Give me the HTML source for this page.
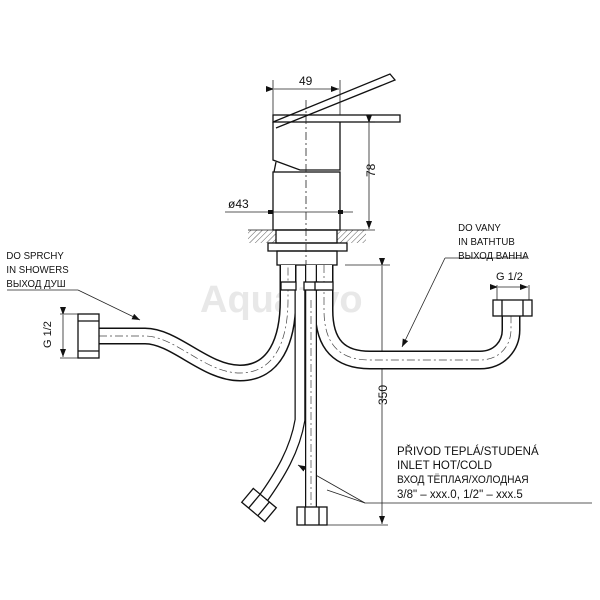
<!DOCTYPE html>
<html><head><meta charset="utf-8"><style>
html,body{margin:0;padding:0;background:#fff}
svg{display:block}
text{font-family:"Liberation Sans","DejaVu Sans",sans-serif;fill:#111}
</style></head><body>
<svg width="600" height="600" viewBox="0 0 600 600" xmlns="http://www.w3.org/2000/svg">
<defs>
<pattern id="h" width="4" height="4" patternUnits="userSpaceOnUse" patternTransform="rotate(45)">
<line x1="0" y1="0" x2="0" y2="4" stroke="#333" stroke-width="0.8"/></pattern>
<marker id="a" markerWidth="8" markerHeight="6" refX="8" refY="3" orient="auto" markerUnits="userSpaceOnUse">
<path d="M0,0 L8,3 L0,6z" fill="#111"/></marker>
</defs>
<text x="200" y="312" font-size="38" font-weight="bold" style="fill:#e8e8e8">Aquativo</text>

<g stroke="#111" fill="none" stroke-width="1.3">
<path d="M273,122 L390,74 L395,80 L276,128"/>
<rect x="273" y="115" width="127" height="7"/>
<path d="M273,122 L273,160 L300,170 L340,170 L340,122"/>
<line x1="276" y1="162" x2="274" y2="172"/>
<rect x="273" y="172" width="67" height="58"/>
<rect x="248" y="230" width="28" height="13" fill="url(#h)" stroke="none"/>
<rect x="337" y="230" width="29" height="13" fill="url(#h)" stroke="none"/>
<line x1="248" y1="230" x2="366" y2="230" stroke-width="0.8"/>
<rect x="276" y="230" width="61" height="13"/>
<rect x="268" y="243" width="79" height="8"/>
<rect x="277" y="251" width="60" height="14"/>
</g>
<g stroke="#222" fill="none" stroke-width="0.8">
<line x1="273" y1="80" x2="273" y2="115"/><line x1="340" y1="80" x2="340" y2="115"/>
<line x1="274" y1="89" x2="339" y2="89" marker-start="url(#a)" marker-end="url(#a)"/>
<line x1="400" y1="122" x2="375" y2="122"/><line x1="340" y1="230" x2="375" y2="230"/>
<line x1="369" y1="123" x2="369" y2="229" marker-start="url(#a)" marker-end="url(#a)"/>
<line x1="225" y1="212" x2="353" y2="212"/>
<line x1="306" y1="100" x2="306" y2="265" stroke-dasharray="8,3,2,3"/>
<line x1="345" y1="265" x2="390" y2="265"/><line x1="327" y1="525" x2="388" y2="525"/>
<line x1="382" y1="266" x2="382" y2="524" marker-start="url(#a)" marker-end="url(#a)"/>
<line x1="60" y1="314" x2="80" y2="314"/><line x1="60" y1="358" x2="80" y2="358"/>
<line x1="63" y1="315" x2="63" y2="357" marker-start="url(#a)" marker-end="url(#a)"/>
<line x1="497" y1="285" x2="497" y2="300"/><line x1="529" y1="285" x2="529" y2="300"/>
<line x1="498" y1="287" x2="528" y2="287" marker-start="url(#a)" marker-end="url(#a)"/>
<line x1="7" y1="290" x2="78" y2="290"/><line x1="78" y1="290" x2="140" y2="320" marker-end="url(#a)"/>
<line x1="445" y1="258" x2="527" y2="258"/><line x1="445" y1="258" x2="402" y2="347" marker-end="url(#a)"/>
<line x1="365" y1="503" x2="592" y2="503"/><line x1="365" y1="503" x2="298" y2="465" marker-end="url(#a)"/>
<line x1="365" y1="503" x2="327" y2="490"/>
</g>
<rect x="268" y="210" width="5" height="4" fill="#111"/><rect x="338" y="210" width="5" height="4" fill="#111"/>

<g fill="none" stroke-linecap="butt">
<path d="M99,336 L145,336 C175,336 205,373 240,373 C275,373 288,340 288,300 L288,265" stroke="#111" stroke-width="17"/>
<path d="M99,336 L145,336 C175,336 205,373 240,373 C275,373 288,340 288,300 L288,265" stroke="#fff" stroke-width="14"/>
<path d="M99,336 L145,336 C175,336 205,373 240,373 C275,373 288,340 288,300 L288,265" stroke="#444" stroke-width="0.7" stroke-dasharray="8,3,2,3"/>
<path d="M324,265 L324,310 C324,345 340,360 370,360 L480,360 C500,360 511,345 511,330 L511,316" stroke="#111" stroke-width="19"/>
<path d="M324,265 L324,310 C324,345 340,360 370,360 L480,360 C500,360 511,345 511,330 L511,316" stroke="#fff" stroke-width="16"/>
<path d="M324,265 L324,310 C324,345 340,360 370,360 L480,360 C500,360 511,345 511,330 L511,316" stroke="#444" stroke-width="0.7" stroke-dasharray="8,3,2,3"/>
<path d="M300,290 L300,420 C295,450 280,475 262,500" stroke="#111" stroke-width="11"/>
<path d="M300,290 L300,420 C295,450 280,475 262,500" stroke="#fff" stroke-width="8.5"/>
<path d="M311,265 L311,507" stroke="#111" stroke-width="12"/>
<path d="M311,265 L311,507" stroke="#fff" stroke-width="9.5"/>
<line x1="311" y1="300" x2="311" y2="505" stroke="#444" stroke-width="0.7" stroke-dasharray="8,3,2,3"/>
</g>
<g stroke="#111" fill="#fff" stroke-width="1.3">
<rect x="281" y="282" width="15" height="8"/><rect x="304" y="282" width="14" height="8"/><rect x="315" y="282" width="18" height="8"/>
<rect x="78" y="314" width="21" height="44"/>
<line x1="78" y1="321" x2="99" y2="321"/><line x1="78" y1="351" x2="99" y2="351"/>
<rect x="493" y="300" width="39" height="16"/>
<line x1="502" y1="300" x2="502" y2="316"/><line x1="523" y1="300" x2="523" y2="316"/>
<rect x="297" y="507" width="30" height="18"/>
<line x1="305" y1="507" x2="305" y2="525"/><line x1="319" y1="507" x2="319" y2="525"/>
<g transform="translate(259,505) rotate(40)">
<rect x="-15" y="-9" width="30" height="18"/>
<line x1="-6" y1="-9" x2="-6" y2="9"/><line x1="6" y1="-9" x2="6" y2="9"/>
</g>
</g>

<g font-size="11">
<text x="299" y="85" font-size="12">49</text>
<text x="228" y="208" font-size="12">ø43</text>
<text transform="translate(375,177) rotate(-90)" font-size="12">78</text>
<text transform="translate(387,405) rotate(-90)" font-size="12">350</text>
<text transform="translate(51,348) rotate(-90)" font-size="11">G 1/2</text>
<text x="496" y="280" font-size="11">G 1/2</text>
<text x="7" y="259" font-size="10.5" transform="scale(0.92,1)">DO SPRCHY</text>
<text x="7" y="273" font-size="10.5" transform="scale(0.92,1)">IN SHOWERS</text>
<text x="7" y="287" font-size="10.5" transform="scale(0.92,1)">ВЫХОД ДУШ</text>
<text x="498" y="231" font-size="10.5" transform="scale(0.92,1)">DO VANY</text>
<text x="498" y="245" font-size="10.5" transform="scale(0.92,1)">IN BATHTUB</text>
<text x="498" y="259" font-size="10.5" transform="scale(0.92,1)">ВЫХОД ВАННА</text>
<text x="397" y="455" font-size="11.5">PŘIVOD  TEPLÁ/STUDENÁ</text>
<text x="397" y="469" font-size="11.5">INLET  HOT/COLD</text>
<text x="397" y="483" font-size="11" transform="translate(397,0) scale(0.93,1) translate(-397,0)">ВХОД  ТЁПЛАЯ/ХОЛОДНАЯ</text>
<text x="397" y="498" font-size="11.5">3/8"  –  xxx.0,  1/2"  –  xxx.5</text>
</g>
</svg>
</body></html>
